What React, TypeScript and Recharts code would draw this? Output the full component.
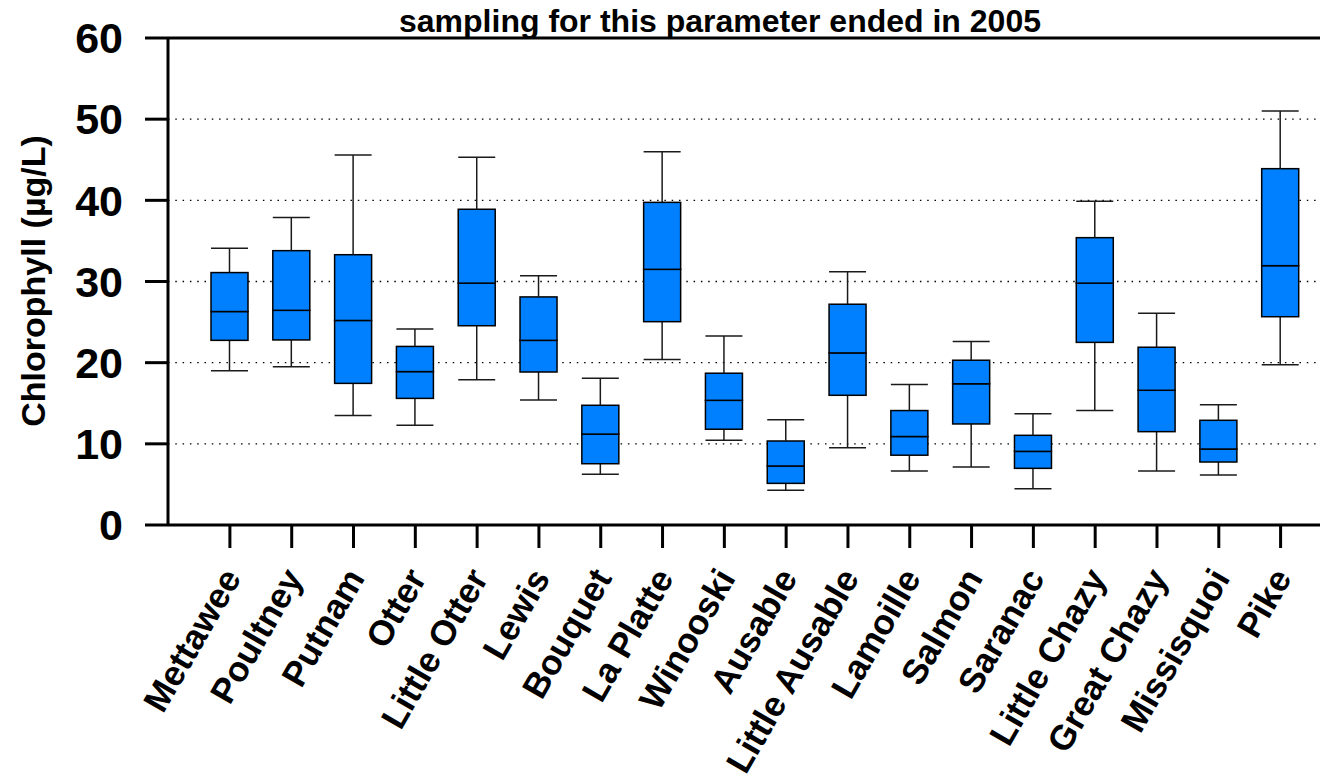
import React from "react";
import { ComposedChart, Bar, XAxis, YAxis, CartesianGrid, ReferenceLine } from "recharts";

// tributary box plots (µg/L)
const rivers = [
  "Mettawee", "Poultney", "Putnam", "Otter", "Little Otter", "Lewis", "Bouquet", "La Platte", "Winooski",
  "Ausable", "Little Ausable", "Lamoille", "Salmon", "Saranac", "Little Chazy", "Great Chazy", "Missisquoi", "Pike",
];
const whiskerLow = [19.0, 19.5, 13.5, 12.3, 17.9, 15.4, 6.25, 20.4, 10.43, 4.27, 9.52, 6.65, 7.15, 4.48, 14.1, 6.65, 6.16, 19.75];
const q1 = [22.75, 22.8, 17.45, 15.6, 24.55, 18.85, 7.55, 25.05, 11.8, 5.13, 15.98, 8.6, 12.45, 6.98, 22.5, 11.5, 7.76, 25.66];
const median = [26.3, 26.45, 25.2, 18.9, 29.8, 22.75, 11.2, 31.5, 15.36, 7.27, 21.2, 10.9, 17.4, 9.07, 29.8, 16.6, 9.36, 31.95];
const q3 = [31.1, 33.8, 33.3, 22.0, 38.9, 28.1, 14.75, 39.75, 18.7, 10.35, 27.2, 14.1, 20.3, 11.05, 35.4, 21.9, 12.9, 43.9];
const whiskerHigh = [34.1, 37.9, 45.6, 24.15, 45.3, 30.7, 18.07, 46.0, 23.3, 12.97, 31.2, 17.3, 22.6, 13.7, 39.9, 26.1, 14.8, 51.0];
const yTicks = [0, 10, 20, 30, 40, 50, 60];

const data = rivers.map((name, i) => ({
  name,
  base: whiskerLow[i],
  lowW: q1[i] - whiskerLow[i],
  boxLow: median[i] - q1[i],
  boxHigh: q3[i] - median[i],
  highW: whiskerHigh[i] - q3[i],
}));

const FONT = "'Liberation Sans', Arial, sans-serif";
const BOX = "#0080ff";
const WHISKER = "#1a1a1a";

const Empty = () => <g />;

const LowWhisker = (p: any) => {
  const cx = p.x + p.width / 2;
  const bottom = p.y + p.height;
  return (
    <g>
      <line x1={cx} x2={cx} y1={p.y} y2={bottom} stroke={WHISKER} strokeWidth={1.5} />
      <line x1={p.x} x2={p.x + p.width} y1={bottom} y2={bottom} stroke={WHISKER} strokeWidth={1.5} />
    </g>
  );
};

const HighWhisker = (p: any) => {
  const cx = p.x + p.width / 2;
  return (
    <g>
      <line x1={cx} x2={cx} y1={p.y} y2={p.y + p.height} stroke={WHISKER} strokeWidth={1.5} />
      <line x1={p.x} x2={p.x + p.width} y1={p.y} y2={p.y} stroke={WHISKER} strokeWidth={1.5} />
    </g>
  );
};

const BoxPart = (p: any) => (
  <rect x={p.x} y={p.y} width={p.width} height={p.height} fill={BOX} stroke="#000" strokeWidth={1.5} />
);

const RiverTick = (p: any) => (
  <g transform={`translate(${p.x},${p.y})`}>
    <text
      x={12}
      y={30}
      transform="rotate(-60, 12, 30)"
      textAnchor="end"
      fontFamily={FONT}
      fontWeight="bold"
      fontSize={35}
      fill="#000"
    >
      {p.payload.value}
    </text>
  </g>
);

const YLabel = () => (
  <text
    x={25}
    y={273}
    transform="rotate(-90, 25, 273)"
    textAnchor="middle"
    dominantBaseline="central"
    fontFamily={FONT}
    fontWeight="bold"
    fontSize={34}
    fill="#000"
  >
    Chlorophyll (µg/L)
  </text>
);

export default function App() {
  return (
    <div style={{ position: "relative", width: 1320, height: 774 }}>
      <div
        style={{
          position: "absolute",
          top: -3,
          left: 712,
          transform: "translateX(-50%)",
          whiteSpace: "nowrap",
          fontFamily: FONT,
          fontWeight: "bold",
          fontSize: 32,
          lineHeight: "32px",
          zIndex: 2,
        }}
      >
        sampling for this parameter ended in 2005
      </div>
      <ComposedChart
        width={1320}
        height={774}
        data={data}
        margin={{ top: 30, right: 0, left: 60, bottom: 0 }}
      >
        <CartesianGrid
          vertical={false}
          stroke="#000"
          strokeWidth={1.3}
          strokeDasharray="1.5 5.8"
        />
        <XAxis
          dataKey="name"
          height={257}
          interval={0}
          padding={{ left: 31, right: 16.5 }}
          tickSize={23}
          tickMargin={0}
          axisLine={{ stroke: "#000", strokeWidth: 3 }}
          tickLine={{ stroke: "#000", strokeWidth: 3 }}
          tick={<RiverTick />}
        />
        <YAxis
          width={100}
          domain={[0, 60]}
          ticks={yTicks}
          interval={0}
          tickSize={23}
          tickMargin={22}
          axisLine={{ stroke: "#000", strokeWidth: 3 }}
          tickLine={{ stroke: "#000", strokeWidth: 3 }}
          tick={{ fill: "#000", fontFamily: FONT, fontWeight: "bold", fontSize: 43 }}
          label={YLabel}
        />
        <ReferenceLine y={60} stroke="#000" strokeWidth={3} />
        <Bar dataKey="base" stackId="box" barSize={37} shape={Empty} isAnimationActive={false} />
        <Bar dataKey="lowW" stackId="box" barSize={37} shape={LowWhisker} isAnimationActive={false} />
        <Bar dataKey="boxLow" stackId="box" barSize={37} shape={BoxPart} isAnimationActive={false} />
        <Bar dataKey="boxHigh" stackId="box" barSize={37} shape={BoxPart} isAnimationActive={false} />
        <Bar dataKey="highW" stackId="box" barSize={37} shape={HighWhisker} isAnimationActive={false} />
      </ComposedChart>
    </div>
  );
}
